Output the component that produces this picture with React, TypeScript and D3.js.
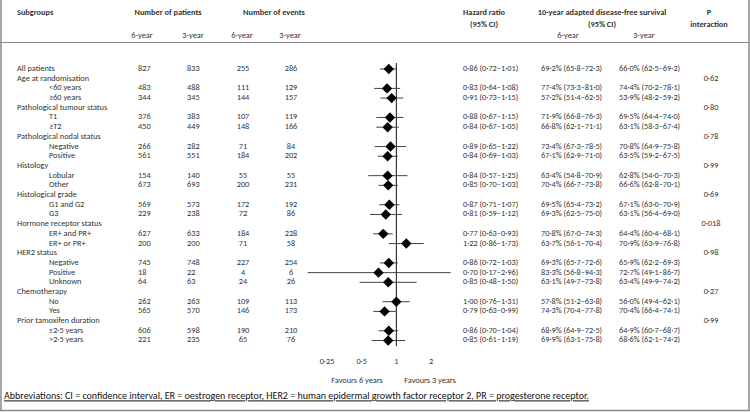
import React from "react";
import * as d3 from "d3";

// ---------- data ----------
const groupNames = [
  "Age at randomisation",
  "Pathological tumour status",
  "Pathological nodal status",
  "Histology",
  "Histological grade",
  "Hormone receptor status",
  "HER2 status",
  "Chemotherapy",
  "Prior tamoxifen duration",
];
const groupP = ["0·62", "0·80", "0·78", "0·99", "0·69", "0·018", "0·98", "0·27", "0·99"];

const subgroupLabels = [
  "All patients", "<60 years", "≥60 years", "T1", "≥T2", "Negative", "Positive",
  "Lobular", "Other", "G1 and G2", "G3", "ER+ and PR+", "ER+ or PR+",
  "Negative", "Positive", "Unknown", "No", "Yes", "≤2·5 years", ">2·5 years",
];
const subgroupGroup = [-1, 0, 0, 1, 1, 2, 2, 3, 3, 4, 4, 5, 5, 6, 6, 6, 7, 7, 8, 8];

const patients6 = [827, 483, 344, 376, 450, 266, 561, 154, 673, 569, 229, 627, 200, 745, 18, 64, 262, 565, 606, 221];
const patients3 = [833, 488, 345, 383, 449, 282, 551, 140, 693, 573, 238, 633, 200, 748, 22, 63, 263, 570, 598, 235];
const events6 = [255, 111, 144, 107, 148, 71, 184, 55, 200, 172, 72, 184, 71, 227, 4, 24, 109, 146, 190, 65];
const events3 = [286, 129, 157, 119, 166, 84, 202, 55, 231, 192, 86, 228, 58, 254, 6, 26, 113, 173, 210, 76];

const hr = [0.86, 0.83, 0.91, 0.88, 0.84, 0.89, 0.84, 0.84, 0.85, 0.87, 0.81, 0.77, 1.22, 0.86, 0.70, 0.85, 1.00, 0.79, 0.86, 0.85];
const hrLow = [0.72, 0.64, 0.73, 0.67, 0.67, 0.65, 0.69, 0.57, 0.70, 0.71, 0.59, 0.63, 0.86, 0.72, 0.17, 0.48, 0.76, 0.63, 0.70, 0.61];
const hrHigh = [1.01, 1.08, 1.15, 1.15, 1.05, 1.22, 1.03, 1.25, 1.03, 1.07, 1.12, 0.93, 1.73, 1.03, 2.96, 1.50, 1.31, 0.99, 1.04, 1.19];

const dfs6 = [69.2, 77.4, 57.2, 71.9, 66.8, 73.4, 67.1, 63.4, 70.4, 69.5, 69.3, 70.8, 63.7, 69.3, 83.3, 63.1, 57.8, 74.3, 68.9, 69.9];
const dfs6Low = [65.8, 73.3, 51.4, 66.8, 62.1, 67.3, 62.9, 54.8, 66.7, 65.4, 62.5, 67.0, 56.1, 65.7, 56.8, 49.7, 51.2, 70.4, 64.9, 63.1];
const dfs6High = [72.3, 81.0, 62.5, 76.3, 71.1, 78.5, 71.0, 70.9, 73.8, 73.2, 75.0, 74.3, 70.4, 72.6, 94.3, 73.8, 63.8, 77.8, 72.5, 75.8];
const dfs3 = [66.0, 74.4, 53.9, 69.5, 63.1, 70.8, 63.5, 62.8, 66.6, 67.1, 63.1, 64.4, 70.9, 65.9, 72.7, 63.4, 56.0, 70.4, 64.9, 68.6];
const dfs3Low = [62.5, 70.2, 48.2, 64.4, 58.3, 64.9, 59.2, 54.0, 62.8, 63.0, 56.4, 60.4, 63.9, 62.2, 49.1, 49.9, 49.4, 66.4, 60.7, 62.1];
const dfs3High = [69.2, 78.1, 59.2, 74.0, 67.4, 75.8, 67.5, 70.3, 70.1, 70.9, 69.0, 68.1, 76.8, 69.3, 86.7, 74.2, 62.1, 74.1, 68.7, 74.2];

const hrTicks = [0.25, 0.5, 1, 2];

// ---------- helpers ----------
const FONT = "Carlito, Calibri, Lato, 'Noto Sans', sans-serif";
const dot = (s: string) => s.replace(/\./g, "·");
const f2 = (v: number) => dot(v.toFixed(2));
const f1 = (v: number) => dot(v.toFixed(1));
const tickFmt = (v: number) => dot(String(v));

type Row = { kind: "group"; g: number } | { kind: "data"; i: number };
const rows: Row[] = [];
{
  let prev = -1;
  subgroupLabels.forEach((_, i) => {
    const g = subgroupGroup[i];
    if (g >= 0 && g !== prev) {
      rows.push({ kind: "group", g });
      prev = g;
    }
    rows.push({ kind: "data", i });
  });
}

export default function App() {
  const W = 750;
  const H = 412;
  const y = d3.scaleLinear().domain([0, rows.length - 1]).range([69, 340.5]);
  const x = d3.scaleLog().domain([0.25, 2]).range([327, 431]);
  const tc = "#333";
  const fs = 8.3;
  const grey = "#8a8a8a";

  const diamond = (cx: number, cy: number, r: number) => {
    const p = d3.path();
    p.moveTo(cx - r, cy);
    p.lineTo(cx, cy - r);
    p.lineTo(cx + r, cy);
    p.lineTo(cx, cy + r);
    p.closePath();
    return p.toString();
  };

  const headBold = { fontWeight: 700 as const };

  return (
    <svg
      width={W}
      height={H}
      style={{ position: "absolute", left: 0, top: 0, background: "#fff" }}
      fontFamily={FONT}
    >
      <rect x={0} y={0} width={W} height={H} fill="#fff" />
      {/* borders */}
      <line x1={1} x2={1} y1={0} y2={410.5} stroke={grey} strokeWidth={1.5} />
      <line x1={749} x2={749} y1={0} y2={410.5} stroke={grey} strokeWidth={1.5} />
      <line x1={0} x2={W} y1={410.5} y2={410.5} stroke={grey} strokeWidth={1.5} />
      <line x1={0} x2={W} y1={42.5} y2={42.5} stroke={grey} strokeWidth={1} />

      {/* headers */}
      <g fill={tc} fontSize={fs} dominantBaseline="middle">
        <text x={17} y={13} {...headBold}>Subgroups</text>
        <text x={168} y={13} textAnchor="middle" {...headBold}>Number of patients</text>
        <text x={274} y={13} textAnchor="middle" {...headBold}>Number of events</text>
        <text x={484} y={13} textAnchor="middle" {...headBold}>Hazard ratio</text>
        <text x={484} y={25} textAnchor="middle" {...headBold}>(95% CI)</text>
        <text x={602} y={13} textAnchor="middle" {...headBold}>10-year adapted disease-free survival</text>
        <text x={602} y={25} textAnchor="middle" {...headBold}>(95% CI)</text>
        <text x={709} y={13} textAnchor="middle" {...headBold}>P</text>
        <text x={709} y={25} textAnchor="middle" {...headBold}>interaction</text>
        {[142, 193, 242, 290, 568, 644].map((cx, k) => (
          <text key={k} x={cx} y={36} textAnchor="middle">
            {k % 2 === 0 ? "6-year" : "3-year"}
          </text>
        ))}
      </g>

      {/* reference line */}
      <line x1={x(1)} x2={x(1)} y1={63} y2={346} stroke="#111" strokeWidth={1} />

      {/* rows */}
      <g fill={tc} fontSize={fs} dominantBaseline="middle">
        {rows.map((r, k) => {
          const cy = y(k);
          if (r.kind === "group") {
            return (
              <g key={k}>
                <text x={17} y={cy}>{groupNames[r.g]}</text>
                <text x={711} y={cy} textAnchor="middle">{groupP[r.g]}</text>
              </g>
            );
          }
          const i = r.i;
          const indent = subgroupGroup[i] >= 0;
          return (
            <g key={k}>
              <text x={indent ? 49 : 17} y={cy}>{subgroupLabels[i]}</text>
              <text x={138} y={cy}>{patients6[i]}</text>
              <text x={187} y={cy}>{patients3[i]}</text>
              <text x={243} y={cy} textAnchor="middle">{events6[i]}</text>
              <text x={291} y={cy} textAnchor="middle">{events3[i]}</text>
              <line x1={x(hrLow[i])} x2={x(hrHigh[i])} y1={cy} y2={cy} stroke="#444" strokeWidth={1} />
              <path d={diamond(x(hr[i]), cy, 5.2)} fill="#000" />
              <text x={463} y={cy}>{`${f2(hr[i])} (${f2(hrLow[i])}–${f2(hrHigh[i])})`}</text>
              <text x={541} y={cy}>{`${f1(dfs6[i])}% (${f1(dfs6Low[i])}–${f1(dfs6High[i])})`}</text>
              <text x={619} y={cy}>{`${f1(dfs3[i])}% (${f1(dfs3Low[i])}–${f1(dfs3High[i])})`}</text>
            </g>
          );
        })}
      </g>

      {/* tick labels */}
      <g fill={tc} fontSize={fs} dominantBaseline="middle" textAnchor="middle">
        {hrTicks.map((t) => (
          <text key={t} x={x(t)} y={362}>{tickFmt(t)}</text>
        ))}
        <text x={357} y={381}>Favours 6 years</text>
        <text x={430} y={381}>Favours 3 years</text>
      </g>

      {/* footnote */}
      <text x={4} y={397} fontSize={10} fill="#111" dominantBaseline="middle" textDecoration="underline">
        Abbreviations: CI = confidence interval, ER = oestrogen receptor, HER2 = human epidermal growth factor receptor 2, PR = progesterone receptor.
      </text>
    </svg>
  );
}
